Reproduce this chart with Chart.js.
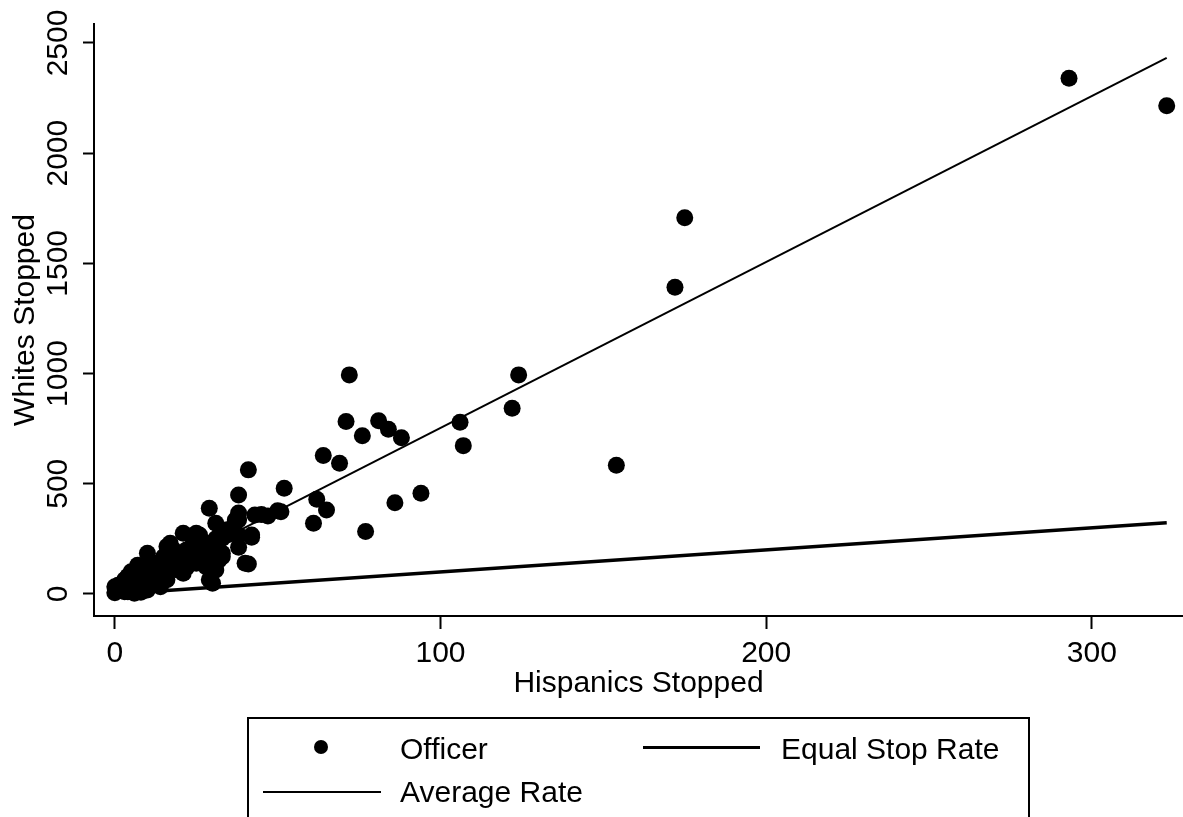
<!DOCTYPE html>
<html>
<head>
<meta charset="utf-8">
<script src="https://cdn.jsdelivr.net/npm/chart.js@4"></script>
<style>
  html, body { margin: 0; padding: 0; background: #fff; }
  #wrap { position: relative; width: 1183px; height: 817px; overflow: hidden; }
  #chart { position: absolute; left: 0; top: 0; }
  .lg-box { position: absolute; left: 247px; top: 717px; width: 783px; height: 140px;
            border: 2px solid #000; box-sizing: border-box; }
  .lg-text { position: absolute; font-family: "Liberation Sans", Arial, sans-serif;
             font-size: 30px; line-height: 36px; color: #000; white-space: nowrap; }
  .lg-dot { position: absolute; width: 14px; height: 14px; border-radius: 50%; background: #000; }
  .lg-line { position: absolute; background: #000; }
</style>
</head>
<body>
<div id="wrap">
  <canvas id="chart" width="1183" height="817"></canvas>
  <div class="lg-box"></div>
  <div class="lg-dot" style="left:314px; top:740px;"></div>
  <div class="lg-text" style="left:400px; top:731px;">Officer</div>
  <div class="lg-line" style="left:643px; top:746px; width:117px; height:3px;"></div>
  <div class="lg-text" style="left:781px; top:731px;">Equal Stop Rate</div>
  <div class="lg-line" style="left:263px; top:791px; width:118px; height:2px;"></div>
  <div class="lg-text" style="left:400px; top:774px;">Average Rate</div>
</div>
<script>
// Officer scatter: stops per officer
const officerX = [
    293, 323, 175, 172, 124, 72, 122, 106, 107, 154,
    71, 76, 81, 84, 88, 64, 69, 41, 52, 38,
    94, 86, 62, 65, 61, 77, 43, 47, 50, 51,
    42, 38, 29, 41, 42, 38, 33,
    31, 37, 34, 33, 30, 26, 21, 26, 23, 18,
    17, 15, 10, 10, 5, 3, 1, 0, 6, 7,
    13, 16, 21, 19, 25, 28, 31, 30, 33, 10,
    14, 0, 2, 4, 8, 3, 6, 12, 8, 14,
    20, 22, 25, 27, 24, 32, 29, 38, 36, 45,
    25, 16, 40, 38,
    2, 4, 6, 9, 11, 12, 14, 17, 19, 20,
    23, 26, 28, 29, 35, 5, 9, 13, 18, 7,
    3, 1, 22, 31
];
const officerY = [
    2340, 2215, 1707, 1392, 994, 994, 843, 779, 673, 584,
    782, 718, 786, 747, 709, 628, 593, 563, 480, 449,
    457, 414, 430, 381, 321, 283, 358, 354, 378, 373,
    268, 336, 389, 136, 257, 212, 169,
    321, 336, 290, 253, 215, 268, 275, 215, 185, 200,
    230, 169, 185, 124, 101, 64, 18, 5, 3, 78,
    94, 64, 94, 139, 139, 124, 109, 49, 185, 18,
    33, 33, 20, 10, 8, 45, 50, 60, 110, 120,
    150, 120, 170, 200, 250, 154, 64, 268, 300, 360,
    275, 215, 139, 367,
    45, 80, 30, 100, 75, 140, 105, 130, 110, 180,
    140, 180, 230, 160, 270, 20, 40, 120, 150, 130,
    10, 40, 200, 250
];

// reference lines
const lineX = [0, 323];
const equalRateY = [0, 323];
const averageRateY = [0, 2432];

const xTicks = [0, 100, 200, 300];
const yTicks = [0, 500, 1000, 1500, 2000, 2500];

const FONT = '"Liberation Sans", Arial, sans-serif';

function toPoints(xs, ys) {
    return xs.map((x, i) => ({ x: x, y: ys[i] }));
}

const ctx = document.getElementById('chart').getContext('2d');
new Chart(ctx, {
    type: 'scatter',
    data: {
        datasets: [
            {
                label: 'Officer',
                data: toPoints(officerX, officerY),
                pointRadius: 8.5,
                pointBackgroundColor: '#000',
                pointBorderWidth: 0,
                showLine: false
            },
            {
                label: 'Equal Stop Rate',
                data: toPoints(lineX, equalRateY),
                showLine: true,
                borderColor: '#000',
                borderWidth: 3.5,
                pointRadius: 0
            },
            {
                label: 'Average Rate',
                data: toPoints(lineX, averageRateY),
                showLine: true,
                borderColor: '#000',
                borderWidth: 2,
                pointRadius: 0
            }
        ]
    },
    options: {
        responsive: false,
        animation: false,
        devicePixelRatio: 1,
        layout: { autoPadding: false, padding: { top: 24, left: 0, right: 0, bottom: 111 } },
        plugins: {
            legend: { display: false },
            tooltip: { enabled: false }
        },
        scales: {
            x: {
                type: 'linear',
                min: -6.4,
                max: 328,
                afterBuildTicks: s => { s.ticks = xTicks.map(v => ({ value: v })); },
                afterFit: s => { s.height = 90; },
                border: { display: true, color: '#000', width: 2 },
                grid: { drawOnChartArea: false, drawTicks: true, tickLength: 13, tickWidth: 2, tickColor: '#000' },
                ticks: {
                    color: '#000', padding: 7, maxRotation: 0,
                    font: { family: FONT, size: 30 },
                    callback: v => String(v)
                },
                title: {
                    display: true, text: 'Hispanics Stopped', color: '#000',
                    font: { family: FONT, size: 30 }, padding: { top: 0, bottom: 4 }
                }
            },
            y: {
                type: 'linear',
                min: -100,
                max: 2586,
                afterBuildTicks: s => { s.ticks = yTicks.map(v => ({ value: v })); },
                afterFit: s => { s.width = 94; },
                border: { display: true, color: '#000', width: 2 },
                grid: { drawOnChartArea: false, drawTicks: true, tickLength: 11, tickWidth: 2, tickColor: '#000' },
                ticks: {
                    color: '#000', padding: -9, minRotation: 90, maxRotation: 90,
                    crossAlign: 'center', font: { family: FONT, size: 30 },
                    callback: v => String(v)
                },
                title: {
                    display: true, text: 'Whites Stopped', color: '#000',
                    font: { family: FONT, size: 30 }, padding: { top: 8, bottom: 0 }
                }
            }
        }
    }
});
</script>
</body>
</html>
